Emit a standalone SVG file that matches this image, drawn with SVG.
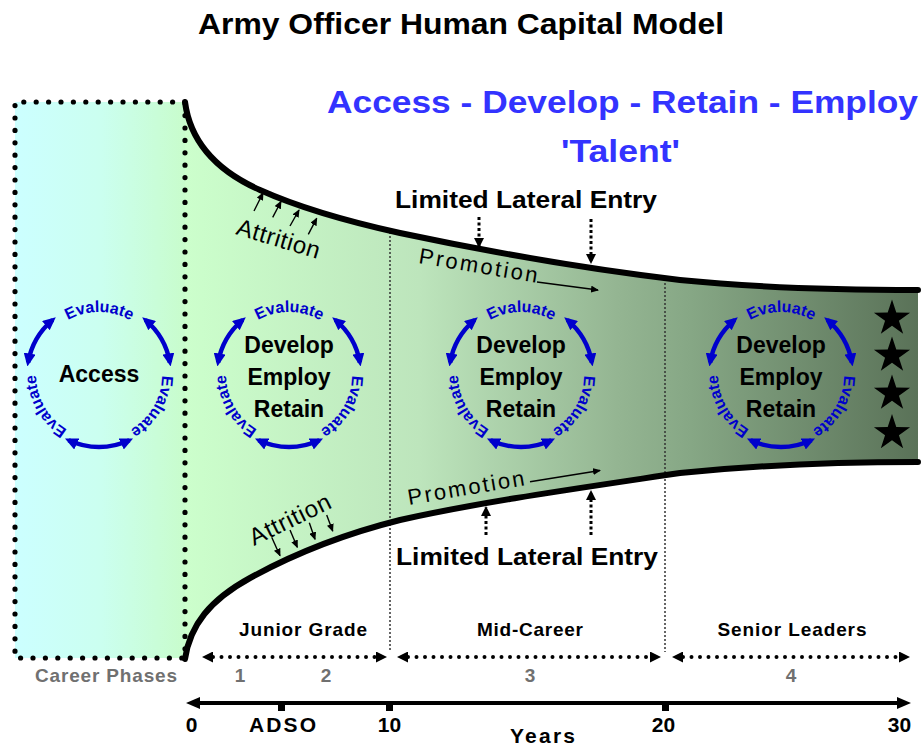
<svg xmlns="http://www.w3.org/2000/svg" width="922" height="746" viewBox="0 0 922 746">
<style>
text{font-family:"Liberation Sans",Arial,Helvetica,sans-serif}
.ctr{font-weight:bold;font-size:23px;fill:#000;text-anchor:middle}
.ev{font-weight:bold;font-size:16px;fill:#0000cc;text-anchor:middle}
.arc{fill:none;stroke:#0000cc;stroke-width:4.5;marker-start:url(#cyc);marker-end:url(#cyc)}
.edge{fill:none;stroke:#000;stroke-width:6;stroke-linecap:round}
.thin{fill:none;stroke:#000;stroke-width:1.4;marker-end:url(#sm)}
.lat{fill:none;stroke:#000;stroke-width:3;stroke-dasharray:3 2.5;marker-end:url(#lat)}
.vdiv{fill:none;stroke:#333;stroke-width:1.5;stroke-dasharray:2 2}
.ph{fill:none;stroke:#000;stroke-width:4;stroke-linecap:round;stroke-dasharray:0 8.5;marker-start:url(#pha);marker-end:url(#pha)}
.lab{font-weight:bold;font-size:19px;fill:#000;text-anchor:middle}
.gray{font-weight:bold;font-size:19px;fill:#707070;text-anchor:middle}
.ax{font-weight:bold;font-size:21px;fill:#000;text-anchor:middle}
.lle{font-weight:bold;font-size:23px;fill:#000}
.side{font-size:24px;fill:#000}
.promo{font-size:22px;fill:#000}
</style>
<defs>
<linearGradient id="gAcc" gradientUnits="userSpaceOnUse" x1="15" y1="0" x2="185" y2="0">
<stop offset="0" stop-color="#ccffff"/><stop offset="0.5" stop-color="#cbfff0"/><stop offset="1" stop-color="#c8fccc"/>
</linearGradient>
<linearGradient id="gFun" gradientUnits="userSpaceOnUse" x1="185" y1="0" x2="918" y2="0">
<stop offset="0" stop-color="#ccffcc"/><stop offset="0.32" stop-color="#bde5bc"/><stop offset="0.59" stop-color="#94b592"/><stop offset="0.69" stop-color="#86a785"/><stop offset="1" stop-color="#5a7258"/>
</linearGradient>
<marker id="cyc" viewBox="0 0 13 12" refX="9" refY="6" markerWidth="13" markerHeight="12" markerUnits="userSpaceOnUse" orient="auto-start-reverse"><path d="M0,0 L13,6 L0,12 z" fill="#0000cc"/></marker>
<marker id="sm" viewBox="0 0 8 7" refX="7" refY="3.5" markerWidth="8" markerHeight="7" markerUnits="userSpaceOnUse" orient="auto"><path d="M0,0 L8,3.5 L0,7 z" fill="#000"/></marker>
<marker id="lat" viewBox="0 0 10 10" refX="9" refY="5" markerWidth="10" markerHeight="10" markerUnits="userSpaceOnUse" orient="auto"><path d="M0,0 L10,5 L0,10 z" fill="#000"/></marker>
<marker id="pha" viewBox="0 0 11 11" refX="0" refY="5.5" markerWidth="11" markerHeight="11" markerUnits="userSpaceOnUse" orient="auto-start-reverse"><path d="M0,0 L11,5.5 L0,11 z" fill="#000"/></marker>
<marker id="axh" viewBox="0 0 14 12" refX="1" refY="6" markerWidth="14" markerHeight="12" markerUnits="userSpaceOnUse" orient="auto-start-reverse"><path d="M0,0 L14,6 L0,12 z" fill="#000"/></marker>
<path id="tc" d="M0,63 A63,63 0 1 1 0,-63 A63,63 0 1 1 0,63"/>
<path id="star" d="M0,-19 L4.29,-5.91 L18.07,-5.87 L6.94,2.26 L11.17,15.37 L0,7.3 L-11.17,15.37 L-6.94,2.26 L-18.07,-5.87 L-4.29,-5.91 Z" fill="#000"/>
</defs>

<rect width="922" height="746" fill="#fff"/>

<g id="titles">
<text x="198" y="34" font-size="30" font-weight="bold" textLength="526" lengthAdjust="spacingAndGlyphs">Army Officer Human Capital Model</text>
<text x="327" y="113" font-size="31" font-weight="bold" fill="#3333ff" textLength="591" lengthAdjust="spacingAndGlyphs">Access - Develop - Retain - Employ</text>
<text x="561" y="162" font-size="31" font-weight="bold" fill="#3333ff" textLength="119" lengthAdjust="spacingAndGlyphs">'Talent'</text>
</g>

<g id="background">
<rect x="15" y="102" width="171" height="556" fill="url(#gAcc)"/>
<path d="M185,102 C190,140 215,170 260,190 C300,208 350,222 400,233 C480,250 580,268 680,280 C760,288 850,290 918,290 L918,462 C850,462 760,465 680,473 C580,488 480,502 400,520 C340,535 290,556 250,578 C210,600 190,625 185,659 Z" fill="url(#gFun)"/>
</g>

<g id="access-box">
<path d="M185,102 L15,102 L15,658 L185,658 L185,102" fill="none" stroke="#000" stroke-width="5.2" stroke-linecap="round" stroke-dasharray="0 12.4"/>
</g>

<g id="dividers">
<path class="vdiv" d="M390,232 L390,652"/>
<path class="vdiv" d="M665,279 L665,652"/>
</g>

<g id="funnel-edges">
<path class="edge" d="M185,102 C190,140 215,170 260,190 C300,208 350,222 400,233 C480,250 580,268 680,280 C760,288 850,290 918,290"/>
<path class="edge" d="M185,659 C190,625 210,600 250,578 C290,556 340,535 400,520 C480,502 580,488 680,473 C760,465 850,462 918,462"/>
</g>

<g id="cycle-access" transform="translate(99,375)">
<path class="arc" d="M-70.91,-12.5 A72,72 0 0 1 -46.28,-55.15"/>
<path class="arc" d="M46.28,-55.15 A72,72 0 0 1 70.91,-12.5"/>
<path class="arc" d="M30.43,65.25 A72,72 0 0 1 -30.43,65.25"/>
<text class="ev"><textPath href="#tc" startOffset="197.9">Evaluate</textPath></text>
<text class="ev"><textPath href="#tc" startOffset="329.9">Evaluate</textPath></text>
<text class="ev"><textPath href="#tc" startOffset="66">Evaluate</textPath></text>
<text class="ctr" x="0" y="7">Access</text>
</g>

<g id="cycle-junior" transform="translate(289,375)">
<path class="arc" d="M-70.91,-12.5 A72,72 0 0 1 -46.28,-55.15"/>
<path class="arc" d="M46.28,-55.15 A72,72 0 0 1 70.91,-12.5"/>
<path class="arc" d="M30.43,65.25 A72,72 0 0 1 -30.43,65.25"/>
<text class="ev"><textPath href="#tc" startOffset="197.9">Evaluate</textPath></text>
<text class="ev"><textPath href="#tc" startOffset="329.9">Evaluate</textPath></text>
<text class="ev"><textPath href="#tc" startOffset="66">Evaluate</textPath></text>
<text class="ctr" x="0" y="-22">Develop</text>
<text class="ctr" x="0" y="10">Employ</text>
<text class="ctr" x="0" y="42">Retain</text>
</g>

<g id="cycle-mid" transform="translate(521,375)">
<path class="arc" d="M-70.91,-12.5 A72,72 0 0 1 -46.28,-55.15"/>
<path class="arc" d="M46.28,-55.15 A72,72 0 0 1 70.91,-12.5"/>
<path class="arc" d="M30.43,65.25 A72,72 0 0 1 -30.43,65.25"/>
<text class="ev"><textPath href="#tc" startOffset="197.9">Evaluate</textPath></text>
<text class="ev"><textPath href="#tc" startOffset="329.9">Evaluate</textPath></text>
<text class="ev"><textPath href="#tc" startOffset="66">Evaluate</textPath></text>
<text class="ctr" x="0" y="-22">Develop</text>
<text class="ctr" x="0" y="10">Employ</text>
<text class="ctr" x="0" y="42">Retain</text>
</g>

<g id="cycle-senior" transform="translate(781,375)">
<path class="arc" d="M-70.91,-12.5 A72,72 0 0 1 -46.28,-55.15"/>
<path class="arc" d="M46.28,-55.15 A72,72 0 0 1 70.91,-12.5"/>
<path class="arc" d="M30.43,65.25 A72,72 0 0 1 -30.43,65.25"/>
<text class="ev"><textPath href="#tc" startOffset="197.9">Evaluate</textPath></text>
<text class="ev"><textPath href="#tc" startOffset="329.9">Evaluate</textPath></text>
<text class="ev"><textPath href="#tc" startOffset="66">Evaluate</textPath></text>
<text class="ctr" x="0" y="-22">Develop</text>
<text class="ctr" x="0" y="10">Employ</text>
<text class="ctr" x="0" y="42">Retain</text>
</g>

<g id="stars">
<use href="#star" x="892" y="318.5"/>
<use href="#star" x="892" y="355.5"/>
<use href="#star" x="892" y="393.5"/>
<use href="#star" x="892" y="433"/>
</g>

<g id="flow-labels">
<text class="side" transform="translate(235,234) rotate(16.8)" textLength="86">Attrition</text>
<text class="side" transform="translate(254,546) rotate(-26)" textLength="88">Attrition</text>
<text class="promo" transform="translate(418,263) rotate(9.5)" textLength="120">Promotion</text>
<text class="promo" transform="translate(409,505) rotate(-9.7)" textLength="118">Promotion</text>
<text class="lle" x="395" y="208" textLength="262" lengthAdjust="spacingAndGlyphs">Limited Lateral Entry</text>
<text class="lle" x="396" y="565" textLength="262" lengthAdjust="spacingAndGlyphs">Limited Lateral Entry</text>
</g>

<g id="connectors">
<path class="thin" d="M254,211 L263,193"/>
<path class="thin" d="M272.7,217.3 L281,201.5"/>
<path class="thin" d="M290,226 L299,210"/>
<path class="thin" d="M308.3,234.3 L316.7,218.3"/>
<path class="thin" d="M271.7,537.3 L280,555.7"/>
<path class="thin" d="M290,530 L297.3,547.3"/>
<path class="thin" d="M309.3,522.7 L315,539.3"/>
<path class="thin" d="M326.7,515 L332.7,531"/>
<path class="thin" d="M537,282 L598,290"/>
<path class="thin" d="M530,481.7 L600,470.5"/>
<path class="lat" d="M479,217 L479,247"/>
<path class="lat" d="M591,219 L591,263"/>
<path class="lat" d="M486,535 L486,507"/>
<path class="lat" d="M591,535 L591,491"/>
<path class="ph" d="M213,657 L376,657"/>
<path class="ph" d="M408,657 L650,657"/>
<path class="ph" d="M683,657 L899,657"/>
<path d="M199,703 L898,703" fill="none" stroke="#000" stroke-width="4" marker-start="url(#axh)" marker-end="url(#axh)"/>
<rect x="278" y="703" width="7" height="8" fill="#000"/>
<rect x="386" y="703" width="7" height="8" fill="#000"/>
<rect x="662" y="703" width="7" height="8" fill="#000"/>
</g>

<g id="phase-labels">
<text class="lab" x="303" y="636" textLength="128">Junior Grade</text>
<text class="lab" x="530" y="636" textLength="106">Mid-Career</text>
<text class="lab" x="792" y="636" textLength="149">Senior Leaders</text>
<text class="gray" x="35" y="682" textLength="142" style="text-anchor:start">Career Phases</text>
<text class="gray" x="240" y="682">1</text>
<text class="gray" x="326" y="682">2</text>
<text class="gray" x="530" y="682">3</text>
<text class="gray" x="791" y="682">4</text>
</g>

<g id="axis-labels">
<text class="ax" x="191.5" y="732">0</text>
<text class="ax" x="282.5" y="732" textLength="67">ADSO</text>
<text class="ax" x="389.5" y="732">10</text>
<text class="ax" x="663.5" y="732">20</text>
<text class="ax" x="899.5" y="732">30</text>
<text class="ax" x="542.5" y="743" textLength="65">Years</text>
</g>
</svg>
